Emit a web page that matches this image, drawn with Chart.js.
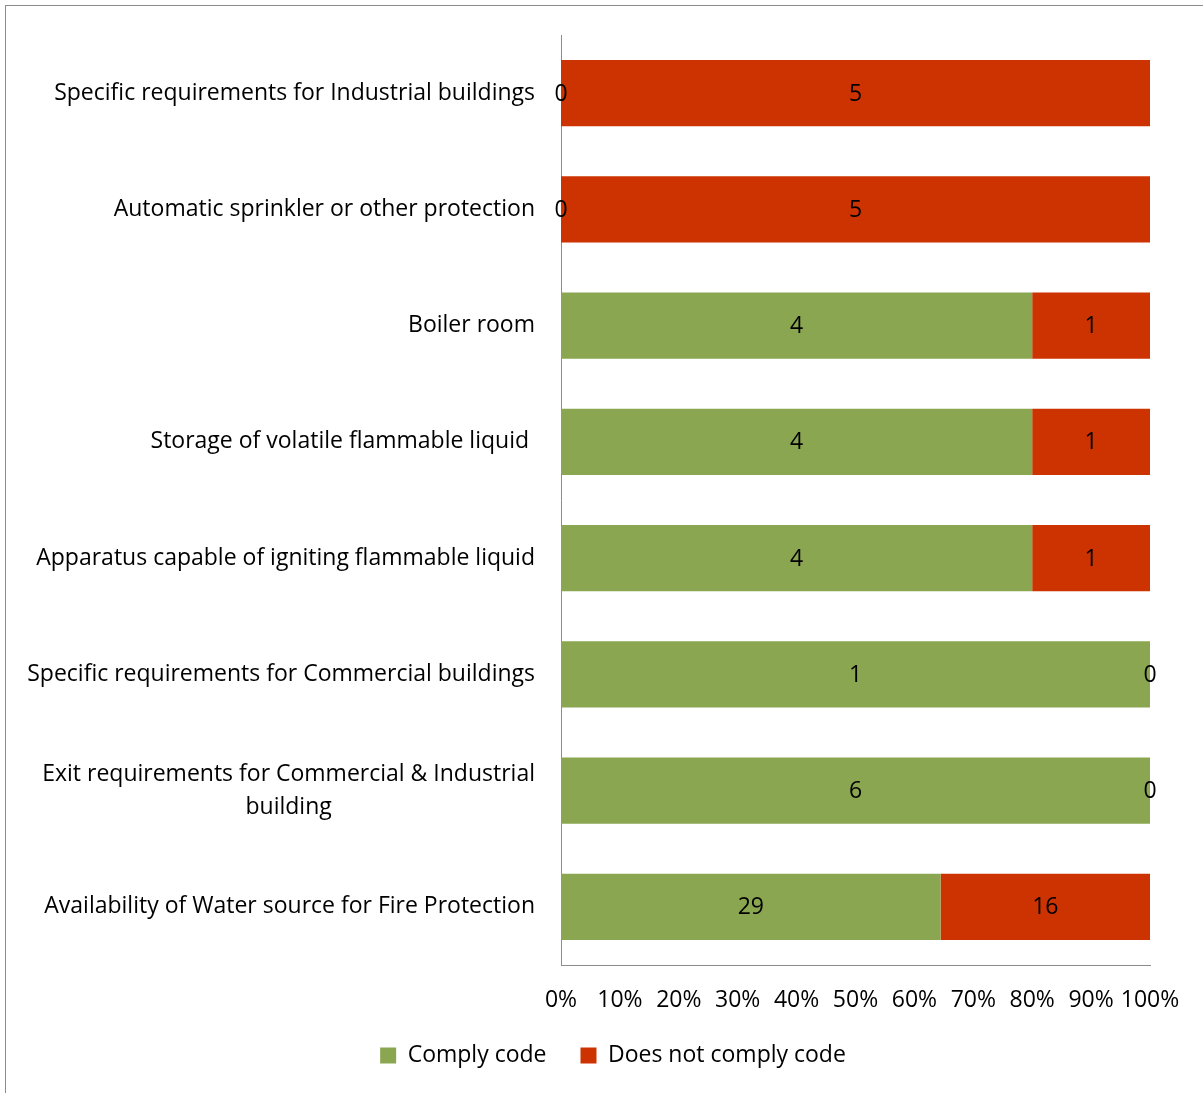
<!DOCTYPE html>
<html lang="en">
<head>
    <meta charset="UTF-8">
    <title>Fire Code Compliance</title>
    <script src="https://cdn.jsdelivr.net/npm/chart.js"></script>
    <style>
        body {
            margin: 0;
            background: #ffffff;
            overflow: hidden;
        }
        .frame {
            position: absolute;
            left: 5px;
            top: 5px;
            width: 1300px;
            height: 1200px;
            border: 1px solid #8c8c8c;
        }
        .wrap {
            position: absolute;
            left: 0;
            top: 0;
            width: 1203px;
            height: 1093px;
        }
    </style>
</head>
<body>
    <div class="frame"></div>
    <div class="wrap"><canvas id="complianceChart"></canvas></div>

    <script>
        const categories = [
            "Specific requirements for Industrial buildings",
            "Automatic sprinkler or other protection",
            "Boiler room",
            "Storage of volatile flammable liquid ",
            "Apparatus capable of igniting flammable liquid",
            "Specific requirements for Commercial buildings",
            ["Exit requirements for Commercial & Industrial", "building"],
            "Availability of Water source for Fire Protection"
        ];
        const complyCounts = [0, 0, 4, 4, 4, 1, 6, 29];
        const notComplyCounts = [5, 5, 1, 1, 1, 0, 0, 16];
        const percentTicks = [0, 10, 20, 30, 40, 50, 60, 70, 80, 90, 100];

        const FONT = "'Open Sans', Lato, sans-serif";
        const FONT_SIZE = 23;
        const PAD_LEFT = 76;

        // share of each row, so every bar fills 0-100%
        function toPercent(counts) {
            return counts.map((c, i) => {
                const total = complyCounts[i] + notComplyCounts[i];
                return total ? c / total * 100 : 0;
            });
        }

        // writes the raw count in the middle of every segment
        const countLabels = {
            id: 'countLabels',
            afterDatasetsDraw(chart) {
                const ctx = chart.ctx;
                ctx.save();
                ctx.font = FONT_SIZE + "px " + FONT;
                ctx.fillStyle = "#000";
                ctx.textAlign = "center";
                ctx.textBaseline = "middle";
                chart.data.datasets.forEach((ds, di) => {
                    const meta = chart.getDatasetMeta(di);
                    meta.data.forEach((bar, i) => {
                        const x = (bar.x + bar.base) / 2;
                        ctx.fillText(String(ds.counts[i]), x, bar.y + 1);
                    });
                });
                ctx.restore();
            }
        };

        // category names: right aligned, wrapped lines centred on each other
        const categoryLabels = {
            id: 'categoryLabels',
            afterDraw(chart) {
                const ctx = chart.ctx;
                const yScale = chart.scales.y;
                const right = chart.chartArea.left - 26;
                const lh = 33;
                ctx.save();
                ctx.font = FONT_SIZE + "px " + FONT;
                ctx.fillStyle = "#000";
                ctx.textBaseline = "middle";
                categories.forEach((label, i) => {
                    const lines = Array.isArray(label) ? label : [label];
                    const widest = Math.max(...lines.map(l => ctx.measureText(l).width));
                    const cx = right - widest / 2;
                    const y0 = yScale.getPixelForValue(i) - (lines.length - 1) * lh / 2;
                    ctx.textAlign = "center";
                    lines.forEach((l, k) => ctx.fillText(l, cx, y0 + k * lh));
                });
                ctx.restore();
            }
        };

        const ctx = document.getElementById('complianceChart').getContext('2d');
        new Chart(ctx, {
            type: 'bar',
            data: {
                labels: categories,
                datasets: [{
                    label: "Comply code",
                    data: toPercent(complyCounts),
                    counts: complyCounts,
                    backgroundColor: "#8ba650",
                    borderWidth: 0,
                    barPercentage: 0.57,
                    categoryPercentage: 1
                }, {
                    label: "Does not comply code",
                    data: toPercent(notComplyCounts),
                    counts: notComplyCounts,
                    backgroundColor: "#cc3300",
                    borderWidth: 0,
                    barPercentage: 0.57,
                    categoryPercentage: 1
                }]
            },
            options: {
                indexAxis: 'y',
                responsive: true,
                maintainAspectRatio: false,
                animation: false,
                layout: {
                    padding: { left: PAD_LEFT, top: 35, right: 53, bottom: 16 }
                },
                scales: {
                    x: {
                        stacked: true,
                        min: 0,
                        max: 100,
                        afterBuildTicks(scale) {
                            scale.ticks = percentTicks.map(v => ({ value: v }));
                        },
                        afterFit(scale) { scale.height = 45; },
                        ticks: {
                            callback: v => v + "%",
                            color: "#000",
                            font: { family: FONT, size: FONT_SIZE },
                            padding: 22,
                            maxRotation: 0,
                            autoSkip: false
                        },
                        grid: { display: false, drawTicks: false },
                        border: { color: "#8c8c8c", width: 1 }
                    },
                    y: {
                        stacked: true,
                        afterFit(scale) { scale.width = 561 - PAD_LEFT; },
                        ticks: { display: false },
                        grid: { display: false, drawTicks: false },
                        border: { color: "#8c8c8c", width: 1 }
                    }
                },
                plugins: {
                    legend: {
                        position: 'bottom',
                        labels: {
                            color: "#000",
                            font: { family: FONT, size: FONT_SIZE },
                            boxWidth: 16,
                            boxHeight: 16,
                            padding: 34
                        }
                    },
                    tooltip: { enabled: false }
                }
            },
            plugins: [countLabels, categoryLabels]
        });
    </script>
</body>
</html>
